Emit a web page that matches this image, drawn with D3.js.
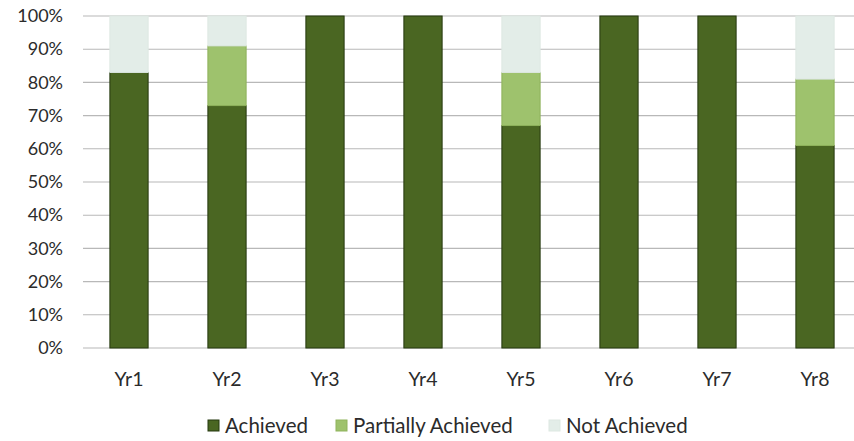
<!DOCTYPE html>
<html><head><meta charset="utf-8">
<script src="https://cdn.jsdelivr.net/npm/d3@7/dist/d3.min.js"></script>
<style>body{margin:0;background:#fff;}svg{display:block;}</style>
</head><body>
<svg id="c" width="854" height="441"></svg>
<script>
const categories = ["Yr1","Yr2","Yr3","Yr4","Yr5","Yr6","Yr7","Yr8"];
const achieved = [83, 73, 100, 100, 67, 100, 100, 61];
const partiallyAchieved = [0, 18, 0, 0, 16, 0, 0, 20];
const notAchieved = [17, 9, 0, 0, 17, 0, 0, 19];
const seriesNames = ["Achieved","Partially Achieved","Not Achieved"];
const yTicks = [0,10,20,30,40,50,60,70,80,90,100];

const colors = {"Achieved":"#4a6622","Partially Achieved":"#9ec26d","Not Achieved":"#e3ede8"};
const strokes = {"Achieved":"#24380f","Partially Achieved":"#8fb35c","Not Achieved":"#dde8e2"};
const font = "Lato, 'Open Sans', sans-serif";

const rows = categories.map((c,i)=>({cat:c,"Achieved":achieved[i],"Partially Achieved":partiallyAchieved[i],"Not Achieved":notAchieved[i]}));
const stacked = d3.stack().keys(seriesNames)(rows);

const svg = d3.select("#c");
const x = d3.scaleBand().domain(categories).range([80, 864]).paddingInner(0.61).paddingOuter(0.305);
const y = d3.scaleLinear().domain([0,100]).range([348, 16]);

// gridlines
svg.append("g").selectAll("line").data(yTicks).join("line")
  .attr("x1", 83).attr("x2", 854)
  .attr("y1", d=>y(d)).attr("y2", d=>y(d))
  .attr("stroke", "#b8b8b8").attr("stroke-width", 1.1);

// y axis labels
const yAxis = svg.append("g").attr("transform","translate(63,0)")
  .call(d3.axisLeft(y).tickValues(yTicks).tickFormat(d=>d+"%").tickSize(0).tickPadding(0));
yAxis.select(".domain").remove();
yAxis.selectAll("text").attr("font-family", font).attr("font-size", 18).attr("fill", "#2b2b2b");

// bars
svg.append("g").selectAll("g").data(stacked).join("g")
  .attr("fill", d=>colors[d.key]).attr("stroke", d=>strokes[d.key])
  .selectAll("rect").data(d=>d.filter(s=>s[1]-s[0]>0)).join("rect")
  .attr("x", d=>x(d.data.cat)).attr("width", x.bandwidth())
  .attr("y", d=>y(d[1])).attr("height", d=>y(d[0])-y(d[1]))
  .attr("stroke-width", 1);

// x axis labels
const xAxis = svg.append("g").attr("transform","translate(0,"+368+")")
  .call(d3.axisBottom(x).tickSize(0).tickPadding(0));
xAxis.select(".domain").remove();
xAxis.selectAll("text").attr("font-family", font).attr("font-size", 19.5).attr("fill", "#2b2b2b").attr("dy","0.9em");

// legend
const legendItems = [
  {name:"Achieved", x:208},
  {name:"Partially Achieved", x:336},
  {name:"Not Achieved", x:549}
];
const lg = svg.append("g").selectAll("g").data(legendItems).join("g")
  .attr("transform", d=>`translate(${d.x},420)`);
lg.append("rect").attr("width", 11).attr("height", 11)
  .attr("fill", d=>colors[d.name]).attr("stroke", d=>strokes[d.name]);
lg.append("text").attr("x", 17).attr("y", 6).attr("dy","0.35em")
  .attr("font-family", font).attr("font-size", 20.5).attr("fill", "#2b2b2b")
  .text(d=>d.name);
</script>
</body></html>
